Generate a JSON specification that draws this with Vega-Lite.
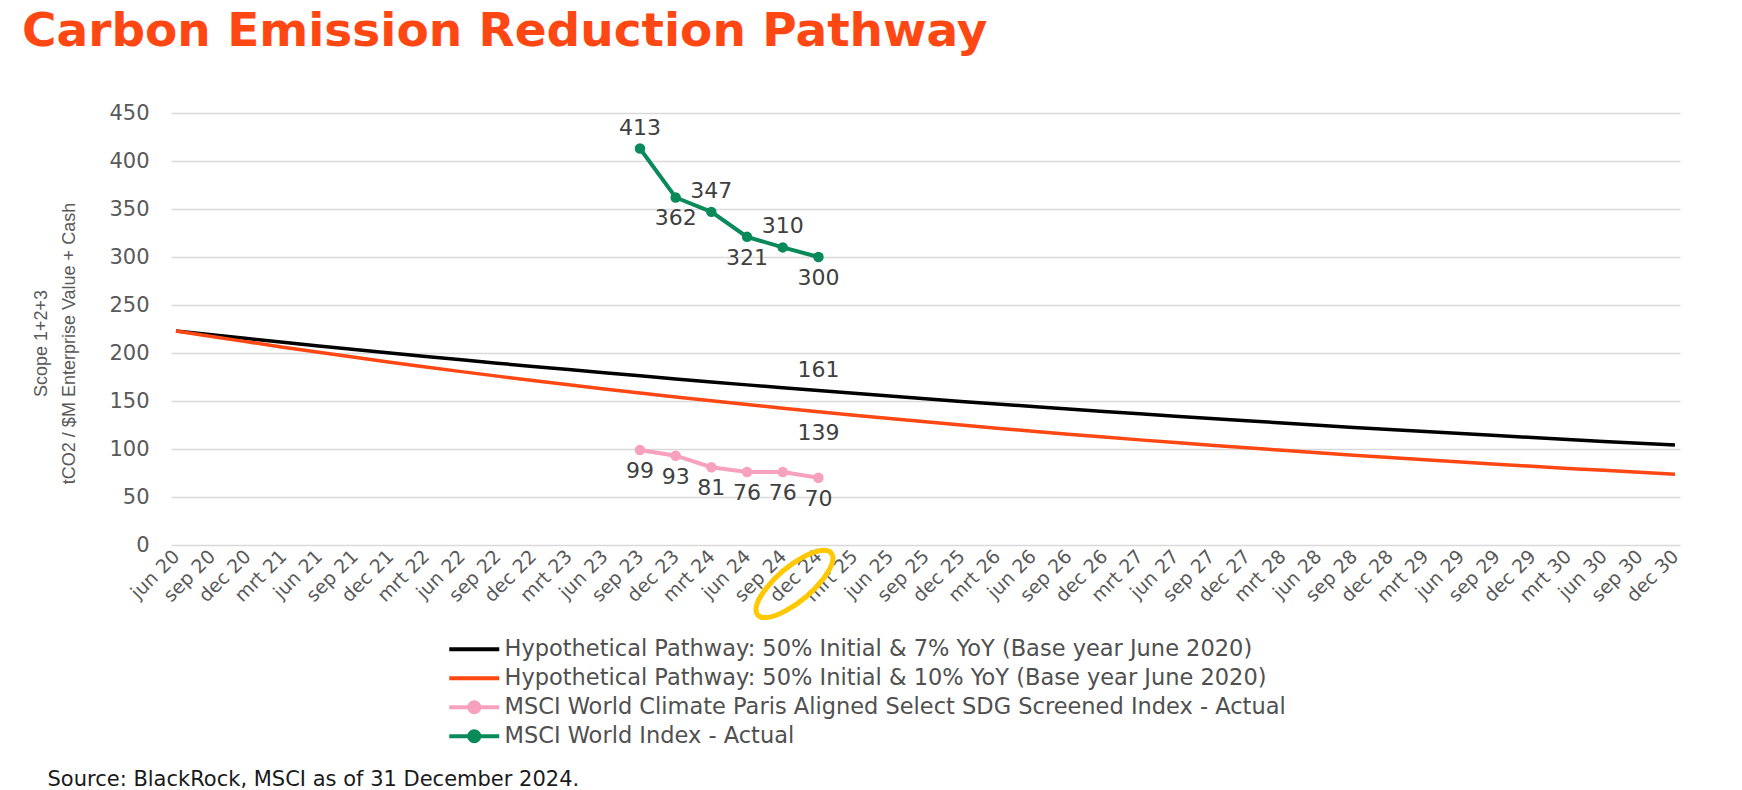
{
  "$schema": "https://vega.github.io/schema/vega-lite/v6.json",
  "width": 1509,
  "height": 432,
  "autosize": "none",
  "padding": {"left": 171, "top": 113, "right": 62, "bottom": 245},
  "background": "white",
  "config": {"view": {"stroke": null}, "font": "DejaVu Sans"},
  "title": {
    "text": "Carbon Emission Reduction Pathway",
    "anchor": "start",
    "frame": "group",
    "dx": -149,
    "offset": 46,
    "font": "DejaVu Sans",
    "fontWeight": "bold",
    "fontSize": 47,
    "color": "#FF4713"
  },
  "datasets": {
    "main": [
      {"quarter": "jun 20", "series": "Hypothetical Pathway: 50% Initial & 7% YoY (Base year June 2020)", "value": 223.0},
      {"quarter": "sep 20", "series": "Hypothetical Pathway: 50% Initial & 7% YoY (Base year June 2020)", "value": 219.0},
      {"quarter": "dec 20", "series": "Hypothetical Pathway: 50% Initial & 7% YoY (Base year June 2020)", "value": 215.0},
      {"quarter": "mrt 21", "series": "Hypothetical Pathway: 50% Initial & 7% YoY (Base year June 2020)", "value": 211.2},
      {"quarter": "jun 21", "series": "Hypothetical Pathway: 50% Initial & 7% YoY (Base year June 2020)", "value": 207.4},
      {"quarter": "sep 21", "series": "Hypothetical Pathway: 50% Initial & 7% YoY (Base year June 2020)", "value": 203.7},
      {"quarter": "dec 21", "series": "Hypothetical Pathway: 50% Initial & 7% YoY (Base year June 2020)", "value": 200.0},
      {"quarter": "mrt 22", "series": "Hypothetical Pathway: 50% Initial & 7% YoY (Base year June 2020)", "value": 196.4},
      {"quarter": "jun 22", "series": "Hypothetical Pathway: 50% Initial & 7% YoY (Base year June 2020)", "value": 192.9},
      {"quarter": "sep 22", "series": "Hypothetical Pathway: 50% Initial & 7% YoY (Base year June 2020)", "value": 189.4},
      {"quarter": "dec 22", "series": "Hypothetical Pathway: 50% Initial & 7% YoY (Base year June 2020)", "value": 186.0},
      {"quarter": "mrt 23", "series": "Hypothetical Pathway: 50% Initial & 7% YoY (Base year June 2020)", "value": 182.7},
      {"quarter": "jun 23", "series": "Hypothetical Pathway: 50% Initial & 7% YoY (Base year June 2020)", "value": 179.4},
      {"quarter": "sep 23", "series": "Hypothetical Pathway: 50% Initial & 7% YoY (Base year June 2020)", "value": 176.2},
      {"quarter": "dec 23", "series": "Hypothetical Pathway: 50% Initial & 7% YoY (Base year June 2020)", "value": 173.0},
      {"quarter": "mrt 24", "series": "Hypothetical Pathway: 50% Initial & 7% YoY (Base year June 2020)", "value": 169.9},
      {"quarter": "jun 24", "series": "Hypothetical Pathway: 50% Initial & 7% YoY (Base year June 2020)", "value": 166.8},
      {"quarter": "sep 24", "series": "Hypothetical Pathway: 50% Initial & 7% YoY (Base year June 2020)", "value": 163.8},
      {"quarter": "dec 24", "series": "Hypothetical Pathway: 50% Initial & 7% YoY (Base year June 2020)", "value": 160.9},
      {"quarter": "mrt 25", "series": "Hypothetical Pathway: 50% Initial & 7% YoY (Base year June 2020)", "value": 158.0},
      {"quarter": "jun 25", "series": "Hypothetical Pathway: 50% Initial & 7% YoY (Base year June 2020)", "value": 155.1},
      {"quarter": "sep 25", "series": "Hypothetical Pathway: 50% Initial & 7% YoY (Base year June 2020)", "value": 152.3},
      {"quarter": "dec 25", "series": "Hypothetical Pathway: 50% Initial & 7% YoY (Base year June 2020)", "value": 149.6},
      {"quarter": "mrt 26", "series": "Hypothetical Pathway: 50% Initial & 7% YoY (Base year June 2020)", "value": 146.9},
      {"quarter": "jun 26", "series": "Hypothetical Pathway: 50% Initial & 7% YoY (Base year June 2020)", "value": 144.3},
      {"quarter": "sep 26", "series": "Hypothetical Pathway: 50% Initial & 7% YoY (Base year June 2020)", "value": 141.7},
      {"quarter": "dec 26", "series": "Hypothetical Pathway: 50% Initial & 7% YoY (Base year June 2020)", "value": 139.1},
      {"quarter": "mrt 27", "series": "Hypothetical Pathway: 50% Initial & 7% YoY (Base year June 2020)", "value": 136.6},
      {"quarter": "jun 27", "series": "Hypothetical Pathway: 50% Initial & 7% YoY (Base year June 2020)", "value": 134.2},
      {"quarter": "sep 27", "series": "Hypothetical Pathway: 50% Initial & 7% YoY (Base year June 2020)", "value": 131.8},
      {"quarter": "dec 27", "series": "Hypothetical Pathway: 50% Initial & 7% YoY (Base year June 2020)", "value": 129.4},
      {"quarter": "mrt 28", "series": "Hypothetical Pathway: 50% Initial & 7% YoY (Base year June 2020)", "value": 127.1},
      {"quarter": "jun 28", "series": "Hypothetical Pathway: 50% Initial & 7% YoY (Base year June 2020)", "value": 124.8},
      {"quarter": "sep 28", "series": "Hypothetical Pathway: 50% Initial & 7% YoY (Base year June 2020)", "value": 122.5},
      {"quarter": "dec 28", "series": "Hypothetical Pathway: 50% Initial & 7% YoY (Base year June 2020)", "value": 120.3},
      {"quarter": "mrt 29", "series": "Hypothetical Pathway: 50% Initial & 7% YoY (Base year June 2020)", "value": 118.2},
      {"quarter": "jun 29", "series": "Hypothetical Pathway: 50% Initial & 7% YoY (Base year June 2020)", "value": 116.1},
      {"quarter": "sep 29", "series": "Hypothetical Pathway: 50% Initial & 7% YoY (Base year June 2020)", "value": 114.0},
      {"quarter": "dec 29", "series": "Hypothetical Pathway: 50% Initial & 7% YoY (Base year June 2020)", "value": 111.9},
      {"quarter": "mrt 30", "series": "Hypothetical Pathway: 50% Initial & 7% YoY (Base year June 2020)", "value": 109.9},
      {"quarter": "jun 30", "series": "Hypothetical Pathway: 50% Initial & 7% YoY (Base year June 2020)", "value": 107.9},
      {"quarter": "sep 30", "series": "Hypothetical Pathway: 50% Initial & 7% YoY (Base year June 2020)", "value": 106.0},
      {"quarter": "dec 30", "series": "Hypothetical Pathway: 50% Initial & 7% YoY (Base year June 2020)", "value": 104.1},
      {"quarter": "jun 20", "series": "Hypothetical Pathway: 50% Initial & 10% YoY (Base year June 2020)", "value": 223.0},
      {"quarter": "sep 20", "series": "Hypothetical Pathway: 50% Initial & 10% YoY (Base year June 2020)", "value": 217.2},
      {"quarter": "dec 20", "series": "Hypothetical Pathway: 50% Initial & 10% YoY (Base year June 2020)", "value": 211.6},
      {"quarter": "mrt 21", "series": "Hypothetical Pathway: 50% Initial & 10% YoY (Base year June 2020)", "value": 206.1},
      {"quarter": "jun 21", "series": "Hypothetical Pathway: 50% Initial & 10% YoY (Base year June 2020)", "value": 200.7},
      {"quarter": "sep 21", "series": "Hypothetical Pathway: 50% Initial & 10% YoY (Base year June 2020)", "value": 195.5},
      {"quarter": "dec 21", "series": "Hypothetical Pathway: 50% Initial & 10% YoY (Base year June 2020)", "value": 190.4},
      {"quarter": "mrt 22", "series": "Hypothetical Pathway: 50% Initial & 10% YoY (Base year June 2020)", "value": 185.5},
      {"quarter": "jun 22", "series": "Hypothetical Pathway: 50% Initial & 10% YoY (Base year June 2020)", "value": 180.6},
      {"quarter": "sep 22", "series": "Hypothetical Pathway: 50% Initial & 10% YoY (Base year June 2020)", "value": 175.9},
      {"quarter": "dec 22", "series": "Hypothetical Pathway: 50% Initial & 10% YoY (Base year June 2020)", "value": 171.4},
      {"quarter": "mrt 23", "series": "Hypothetical Pathway: 50% Initial & 10% YoY (Base year June 2020)", "value": 166.9},
      {"quarter": "jun 23", "series": "Hypothetical Pathway: 50% Initial & 10% YoY (Base year June 2020)", "value": 162.6},
      {"quarter": "sep 23", "series": "Hypothetical Pathway: 50% Initial & 10% YoY (Base year June 2020)", "value": 158.3},
      {"quarter": "dec 23", "series": "Hypothetical Pathway: 50% Initial & 10% YoY (Base year June 2020)", "value": 154.2},
      {"quarter": "mrt 24", "series": "Hypothetical Pathway: 50% Initial & 10% YoY (Base year June 2020)", "value": 150.2},
      {"quarter": "jun 24", "series": "Hypothetical Pathway: 50% Initial & 10% YoY (Base year June 2020)", "value": 146.3},
      {"quarter": "sep 24", "series": "Hypothetical Pathway: 50% Initial & 10% YoY (Base year June 2020)", "value": 142.5},
      {"quarter": "dec 24", "series": "Hypothetical Pathway: 50% Initial & 10% YoY (Base year June 2020)", "value": 138.8},
      {"quarter": "mrt 25", "series": "Hypothetical Pathway: 50% Initial & 10% YoY (Base year June 2020)", "value": 135.2},
      {"quarter": "jun 25", "series": "Hypothetical Pathway: 50% Initial & 10% YoY (Base year June 2020)", "value": 131.7},
      {"quarter": "sep 25", "series": "Hypothetical Pathway: 50% Initial & 10% YoY (Base year June 2020)", "value": 128.3},
      {"quarter": "dec 25", "series": "Hypothetical Pathway: 50% Initial & 10% YoY (Base year June 2020)", "value": 124.9},
      {"quarter": "mrt 26", "series": "Hypothetical Pathway: 50% Initial & 10% YoY (Base year June 2020)", "value": 121.7},
      {"quarter": "jun 26", "series": "Hypothetical Pathway: 50% Initial & 10% YoY (Base year June 2020)", "value": 118.5},
      {"quarter": "sep 26", "series": "Hypothetical Pathway: 50% Initial & 10% YoY (Base year June 2020)", "value": 115.4},
      {"quarter": "dec 26", "series": "Hypothetical Pathway: 50% Initial & 10% YoY (Base year June 2020)", "value": 112.4},
      {"quarter": "mrt 27", "series": "Hypothetical Pathway: 50% Initial & 10% YoY (Base year June 2020)", "value": 109.5},
      {"quarter": "jun 27", "series": "Hypothetical Pathway: 50% Initial & 10% YoY (Base year June 2020)", "value": 106.7},
      {"quarter": "sep 27", "series": "Hypothetical Pathway: 50% Initial & 10% YoY (Base year June 2020)", "value": 103.9},
      {"quarter": "dec 27", "series": "Hypothetical Pathway: 50% Initial & 10% YoY (Base year June 2020)", "value": 101.2},
      {"quarter": "mrt 28", "series": "Hypothetical Pathway: 50% Initial & 10% YoY (Base year June 2020)", "value": 98.6},
      {"quarter": "jun 28", "series": "Hypothetical Pathway: 50% Initial & 10% YoY (Base year June 2020)", "value": 96.0},
      {"quarter": "sep 28", "series": "Hypothetical Pathway: 50% Initial & 10% YoY (Base year June 2020)", "value": 93.5},
      {"quarter": "dec 28", "series": "Hypothetical Pathway: 50% Initial & 10% YoY (Base year June 2020)", "value": 91.1},
      {"quarter": "mrt 29", "series": "Hypothetical Pathway: 50% Initial & 10% YoY (Base year June 2020)", "value": 88.7},
      {"quarter": "jun 29", "series": "Hypothetical Pathway: 50% Initial & 10% YoY (Base year June 2020)", "value": 86.4},
      {"quarter": "sep 29", "series": "Hypothetical Pathway: 50% Initial & 10% YoY (Base year June 2020)", "value": 84.2},
      {"quarter": "dec 29", "series": "Hypothetical Pathway: 50% Initial & 10% YoY (Base year June 2020)", "value": 82.0},
      {"quarter": "mrt 30", "series": "Hypothetical Pathway: 50% Initial & 10% YoY (Base year June 2020)", "value": 79.8},
      {"quarter": "jun 30", "series": "Hypothetical Pathway: 50% Initial & 10% YoY (Base year June 2020)", "value": 77.8},
      {"quarter": "sep 30", "series": "Hypothetical Pathway: 50% Initial & 10% YoY (Base year June 2020)", "value": 75.7},
      {"quarter": "dec 30", "series": "Hypothetical Pathway: 50% Initial & 10% YoY (Base year June 2020)", "value": 73.8},
      {"quarter": "sep 23", "series": "MSCI World Climate Paris Aligned Select SDG Screened Index - Actual", "value": 99},
      {"quarter": "dec 23", "series": "MSCI World Climate Paris Aligned Select SDG Screened Index - Actual", "value": 93},
      {"quarter": "mrt 24", "series": "MSCI World Climate Paris Aligned Select SDG Screened Index - Actual", "value": 81},
      {"quarter": "jun 24", "series": "MSCI World Climate Paris Aligned Select SDG Screened Index - Actual", "value": 76},
      {"quarter": "sep 24", "series": "MSCI World Climate Paris Aligned Select SDG Screened Index - Actual", "value": 76},
      {"quarter": "dec 24", "series": "MSCI World Climate Paris Aligned Select SDG Screened Index - Actual", "value": 70},
      {"quarter": "sep 23", "series": "MSCI World Index - Actual", "value": 413},
      {"quarter": "dec 23", "series": "MSCI World Index - Actual", "value": 362},
      {"quarter": "mrt 24", "series": "MSCI World Index - Actual", "value": 347},
      {"quarter": "jun 24", "series": "MSCI World Index - Actual", "value": 321},
      {"quarter": "sep 24", "series": "MSCI World Index - Actual", "value": 310},
      {"quarter": "dec 24", "series": "MSCI World Index - Actual", "value": 300}
    ],
    "highlight": [
      {"quarter": "dec 24", "value": -40.6}
    ]
  },
  "encoding": {
    "x": {
      "field": "quarter",
      "type": "ordinal",
      "sort": null,
      "scale": {
        "type": "point",
        "padding": 0.14,
        "domain": ["jun 20", "sep 20", "dec 20", "mrt 21", "jun 21", "sep 21", "dec 21", "mrt 22", "jun 22", "sep 22", "dec 22", "mrt 23", "jun 23", "sep 23", "dec 23", "mrt 24", "jun 24", "sep 24", "dec 24", "mrt 25", "jun 25", "sep 25", "dec 25", "mrt 26", "jun 26", "sep 26", "dec 26", "mrt 27", "jun 27", "sep 27", "dec 27", "mrt 28", "jun 28", "sep 28", "dec 28", "mrt 29", "jun 29", "sep 29", "dec 29", "mrt 30", "jun 30", "sep 30", "dec 30"]
      },
      "axis": {
        "title": "Source: BlackRock, MSCI as of 31 December 2024.",
        "titleX": -124,
        "titleY": 240,
        "titleAlign": "left",
        "titleBaseline": "alphabetic",
        "titleFont": "DejaVu Sans",
        "titleFontSize": 21,
        "titleFontWeight": "normal",
        "titleColor": "#1a1a1a",
        "labelAngle": -45,
        "labelAlign": "right",
        "labelBaseline": "middle",
        "labelFont": "DejaVu Sans",
        "labelFontSize": 19,
        "labelColor": "#595959",
        "labelPadding": 8,
        "labelOverlap": false,
        "ticks": false,
        "domain": false,
        "grid": false
      }
    },
    "y": {
      "field": "value",
      "type": "quantitative",
      "scale": {"domain": [0, 450], "nice": false, "zero": false},
      "axis": {
        "title": ["Scope 1+2+3", "tCO2 / $M Enterprise Value + Cash"],
        "titleX": -125,
        "titleY": 230,
        "titleAngle": -90,
        "titleAlign": "center",
        "titleBaseline": "alphabetic",
        "titleFont": "Liberation Sans, Arial, sans-serif",
        "titleFontSize": 18,
        "titleFontWeight": "normal",
        "titleColor": "#595959",
        "titleLineHeight": 28,
        "values": [0, 50, 100, 150, 200, 250, 300, 350, 400, 450],
        "labelFont": "DejaVu Sans",
        "labelFontSize": 21,
        "labelColor": "#595959",
        "labelPadding": 22,
        "ticks": false,
        "domain": false,
        "grid": true,
        "gridColor": "#d9d9d9",
        "gridWidth": 1.5
      }
    }
  },
  "layer": [
    {
      "data": {"name": "main"},
      "transform": [{"filter": "indexof(datum.series, 'Hypothetical') === 0"}],
      "mark": {"type": "line", "strokeWidth": 3.5},
      "encoding": {
        "color": {
          "field": "series",
          "type": "nominal",
          "scale": {
            "domain": ["Hypothetical Pathway: 50% Initial & 7% YoY (Base year June 2020)", "Hypothetical Pathway: 50% Initial & 10% YoY (Base year June 2020)", "MSCI World Climate Paris Aligned Select SDG Screened Index - Actual", "MSCI World Index - Actual"],
            "range": ["#000000", "#FF4713", "#F7A1BE", "#0A8A5A"]
          },
          "legend": {
            "title": null,
            "orient": "none",
            "legendX": 292,
            "legendY": 525,
            "direction": "vertical",
            "padding": 0,
            "gridAlign": "all",
            "symbolSize": 100,
            "symbolStrokeWidth": 4,
            "labelOffset": 19,
            "rowPadding": 2,
            "labelFont": "DejaVu Sans",
            "labelFontSize": 22.5,
            "labelColor": "#505050",
            "labelLimit": 0,
            "encode": {
              "symbols": {
                "update": {
                  "shape": {"signal": "indexof(datum.value, 'MSCI') === 0 ? 'M-5,0L5,0M-1,0A1,1,0,1,1,1,0A1,1,0,1,1,-1,0Z' : 'M-5,0L5,0'"},
                  "fill": {"scale": "color", "field": "value"},
                  "stroke": {"scale": "color", "field": "value"},
                  "strokeWidth": {"value": 4},
                  "size": {"value": 100},
                  "opacity": {"value": 1}
                }
              }
            }
          }
        },
        "detail": {"field": "series"}
      }
    },
    {
      "data": {"name": "main"},
      "transform": [{"filter": "indexof(datum.series, 'MSCI') === 0"}],
      "mark": {"type": "line", "strokeWidth": 4, "point": {"filled": true, "size": 110}},
      "encoding": {
        "color": {"field": "series", "type": "nominal"}
      }
    },
    {
      "data": {"name": "main"},
      "transform": [{"filter": "(datum.series === 'MSCI World Index - Actual' && indexof(['sep 23', 'mrt 24', 'sep 24'], datum.quarter) >= 0) || (datum.series === 'Hypothetical Pathway: 50% Initial & 7% YoY (Base year June 2020)' && datum.quarter === 'dec 24')"}],
      "mark": {"type": "text", "dy": -21, "font": "DejaVu Sans", "fontSize": 22, "fill": "#404040"},
      "encoding": {
        "text": {"field": "value", "type": "quantitative", "format": ".0f"}
      }
    },
    {
      "data": {"name": "main"},
      "transform": [{"filter": "(datum.series === 'MSCI World Index - Actual' && indexof(['dec 23', 'jun 24', 'dec 24'], datum.quarter) >= 0) || datum.series === 'MSCI World Climate Paris Aligned Select SDG Screened Index - Actual' || (datum.series === 'Hypothetical Pathway: 50% Initial & 10% YoY (Base year June 2020)' && datum.quarter === 'dec 24')"}],
      "mark": {"type": "text", "dy": 21, "font": "DejaVu Sans", "fontSize": 22, "fill": "#404040"},
      "encoding": {
        "text": {"field": "value", "type": "quantitative", "format": ".0f"}
      }
    },
    {
      "data": {"name": "highlight"},
      "mark": {
        "type": "point",
        "shape": "M-12.154,6.17A9.6,3.4,-40,1,1,2.554,-6.17A9.6,3.4,-40,1,1,-12.154,6.17Z",
        "size": 100,
        "filled": false,
        "stroke": "#FFC800",
        "strokeWidth": 5,
        "opacity": 1
      }
    }
  ]
}
